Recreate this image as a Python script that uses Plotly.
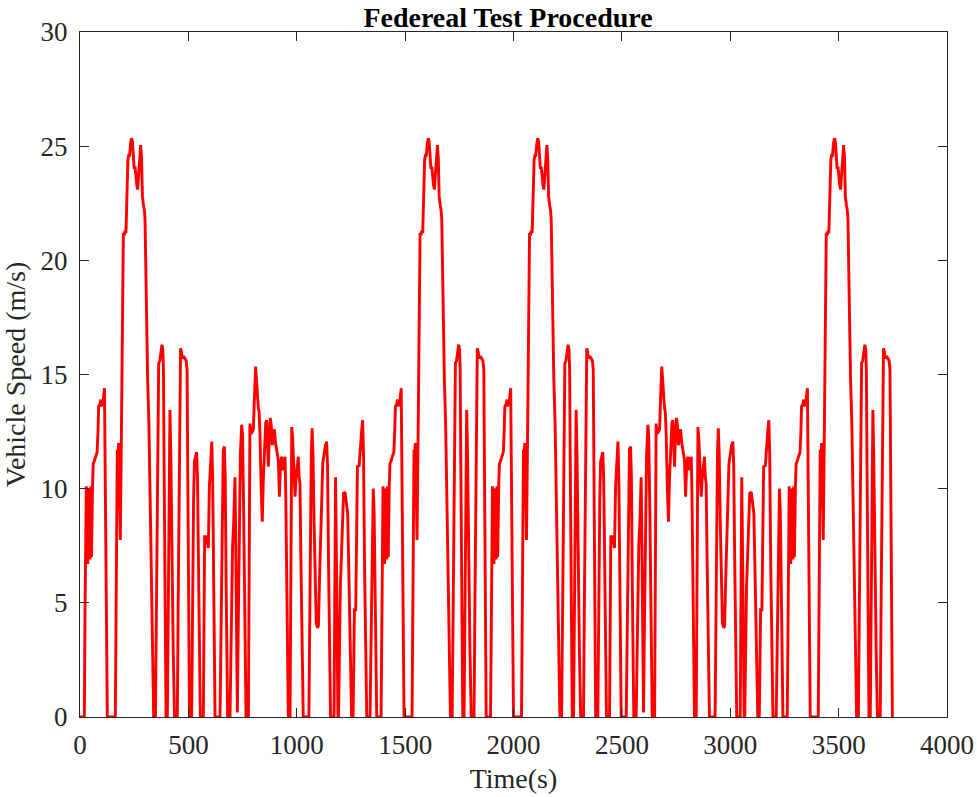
import plotly.graph_objects as go

# FTP-75 speed trace, read as (time s, speed m/s) breakpoints.
# Phase A: cold-start transient portion (0-505 s)
phase_a_time = [0, 20, 23, 26, 29, 33, 36, 40, 43, 46, 50, 53, 56, 58, 61, 66, 72, 79, 83, 86,
                92, 96, 99, 103, 106, 110, 113, 116, 120, 124, 126,
                163, 166, 170, 172, 175, 178, 181, 184, 186, 189, 192, 196, 200, 205, 208, 212,
                216, 221, 225, 229, 233, 238, 242, 246, 250, 254, 258, 262, 266, 270, 275, 280,
                284, 288, 293, 297, 300, 303, 306, 312, 318, 324, 330, 336, 340,
                348, 352, 356, 360, 363, 368, 374, 378, 382, 385, 388, 392, 397,
                403, 407, 411, 415, 419, 424, 430, 436,
                449, 453, 457, 461, 464, 468, 472, 478, 485, 490, 494, 497, 500, 503, 505]
phase_a_speed = [0, 0, 4.5, 9.5, 10.1, 8.5, 6.7, 9.9, 10.0, 6.9, 10.1, 7.0, 10.2, 10.2, 11.1, 11.2,
                 11.4, 11.6, 12.5, 13.6, 13.7, 13.9, 13.6, 13.9, 13.8, 14.4, 14.4, 11.0, 6.0, 1.5, 0,
                 0, 4.0, 10.0, 11.7, 11.2, 12.0, 11.0, 8.5, 7.75, 10.5, 14.0, 18.5, 21.2, 21.1, 21.3,
                 21.2, 22.8, 24.4, 24.6, 24.6, 25.1, 25.35, 25.2, 24.6, 24.0, 24.1, 23.6, 23.3, 23.1,
                 23.6, 24.4, 25.05, 24.5, 22.8, 22.4, 22.2, 21.8, 19.5, 17.0, 14.8, 12.8, 9.5, 5.5,
                 1.8, 0,
                 0, 4.0, 9.0, 13.0, 15.5, 15.6, 16.0, 16.3, 16.1, 15.2, 11.0, 5.0, 0,
                 0, 5.0, 10.5, 13.45, 11.5, 7.0, 3.0, 0,
                 0, 5.0, 10.5, 14.5, 16.15, 16.0, 15.7, 15.8, 15.7, 15.6, 15.2, 12.0, 7.0, 2.5, 0]

# Phase B: stabilized portion (505-1369 s)
phase_b_time = [505, 515, 519, 524, 528, 533, 538, 542, 547, 552, 555,
                569, 572, 575, 582, 588, 592, 597, 603, 608, 612, 616, 620, 623,
                646, 650, 655, 661, 666, 670, 674, 678, 681,
                692, 696, 700, 704, 709, 715, 718, 722, 726, 730, 735, 740, 746, 750, 755, 760,
                764, 766,
                777, 780, 784, 790, 796, 800, 803, 807, 810, 814, 819, 823, 826, 830, 836, 841,
                846, 852, 857, 861, 865, 869, 874, 878, 882, 887, 892, 897, 902, 907, 911, 915,
                918, 920, 924, 930, 934, 938, 942, 946, 949, 953, 957, 961,
                969, 972, 975, 977, 981, 986, 992, 997, 1003, 1007, 1011, 1015, 1019, 1024, 1030,
                1056, 1059, 1063, 1067, 1071, 1075, 1080, 1085, 1090, 1096, 1100, 1105, 1110,
                1115, 1120, 1126, 1132, 1138, 1142, 1147, 1152, 1156,
                1172, 1175, 1179, 1183, 1187, 1190, 1193, 1197, 1201, 1206, 1212, 1216, 1223,
                1229, 1235, 1240, 1245, 1250, 1253,
                1260, 1263, 1266, 1272, 1276, 1280, 1288, 1294, 1299, 1304, 1308, 1313, 1318, 1323,
                1338, 1342, 1346, 1350, 1353, 1357, 1361, 1365, 1369]
phase_b_speed = [0, 0, 5.0, 9.5, 11.2, 11.4, 11.6, 10.5, 6.0, 1.5, 0,
                 0, 4.0, 7.9, 7.9, 7.5, 7.4, 10.1, 11.5, 12.06, 10.5, 6.0, 2.0, 0,
                 0, 4.0, 9.0, 11.7, 11.85, 10.5, 6.0, 2.0, 0,
                 0, 3.0, 6.0, 7.5, 8.5, 10.5, 8.0, 3.0, 0.2, 4.0, 8.5, 11.5, 12.8, 12.3, 9.0, 5.0,
                 1.5, 0,
                 0, 6.0, 12.85, 12.4, 12.5, 12.6, 13.5, 14.8, 15.35, 14.8, 13.8, 13.5, 13.4, 12.5,
                 10.0, 8.55, 10.5, 12.3, 12.9, 13.0, 12.0, 10.96, 12.5, 13.1, 12.8, 11.9, 12.4,
                 12.6, 12.0, 11.8, 11.5, 11.25, 10.5, 9.65, 10.8, 11.4, 11.1, 10.8, 11.2, 11.4,
                 10.0, 5.5, 2.0, 0,
                 0, 6.0, 11.0, 12.7, 12.2, 11.0, 9.65, 10.5, 11.2, 11.4, 10.5, 10.2, 7.0, 3.0, 0,
                 0, 4.0, 8.5, 11.5, 12.64, 11.5, 8.5, 5.5, 4.1, 3.9, 4.0, 6.0, 8.0, 9.36, 11.1,
                 11.5, 11.9, 12.06, 11.0, 6.5, 2.5, 0,
                 0, 5.0, 10.5, 7.0, 2.5, 0, 0, 3.5, 5.7, 7.0, 9.0, 9.8, 9.85, 9.2, 8.9, 6.5, 3.5,
                 1.0, 0,
                 0, 3.0, 4.7, 4.7, 8.0, 10.96, 11.0, 12.0, 12.5, 13.0, 11.5, 6.5, 2.0, 0,
                 0, 3.0, 6.0, 8.5, 10.0, 9.0, 6.0, 2.5, 0]

assert len(phase_a_time) == len(phase_a_speed)
assert len(phase_b_time) == len(phase_b_speed)

# Procedure order: A, B, then A again as the hot start; the whole procedure is run twice.
hot_start_offset = 1369
procedure_length = 1874
schedule = [("A", 0), ("B", 0), ("A", hot_start_offset),
            ("A", procedure_length), ("B", procedure_length),
            ("A", procedure_length + hot_start_offset)]
phases = {"A": (phase_a_time, phase_a_speed), "B": (phase_b_time, phase_b_speed)}

time_s = []
speed_ms = []
for name, start in schedule:
    t, v = phases[name]
    time_s.extend(ti + start for ti in t)
    speed_ms.extend(v)

x_ticks = list(range(0, 4001, 500))
y_ticks = list(range(0, 31, 5))

font_family = "Liberation Serif, Times New Roman, serif"
axis_color = "#262626"

fig = go.Figure(
    go.Scatter(x=time_s, y=speed_ms, mode="lines",
               line=dict(color="#ff0000", width=2.9), hoverinfo="skip")
)

axis_common = dict(
    showline=True, linecolor=axis_color, linewidth=1, mirror="ticks",
    ticks="inside", ticklen=9, tickwidth=1, tickcolor=axis_color,
    showgrid=False, zeroline=False,
    tickfont=dict(family=font_family, size=27, color=axis_color),
)

fig.update_xaxes(range=[0, 4000], tickvals=x_ticks, ticktext=[str(v) for v in x_ticks],
                 ticklabelstandoff=4,
                 title=dict(text="Time(s)", font=dict(family=font_family, size=28, color=axis_color),
                            standoff=8),
                 **axis_common)
fig.update_yaxes(range=[0, 30], tickvals=y_ticks, ticktext=[str(v) for v in y_ticks],
                 ticklabelstandoff=6,
                 title=dict(text="Vehicle Speed (m/s)",
                            font=dict(family=font_family, size=28, color=axis_color),
                            standoff=6),
                 **axis_common)

fig.update_layout(
    width=977, height=797,
    margin=dict(l=80, r=30, t=32, b=80, autoexpand=False),
    paper_bgcolor="white", plot_bgcolor="white",
    showlegend=False,
    title=dict(text="<b>Federeal Test Procedure</b>", x=0.52, xanchor="center",
               yref="container", y=0.979, yanchor="middle",
               font=dict(family=font_family, size=28, color="black")),
)

fig.write_html("out.html")
